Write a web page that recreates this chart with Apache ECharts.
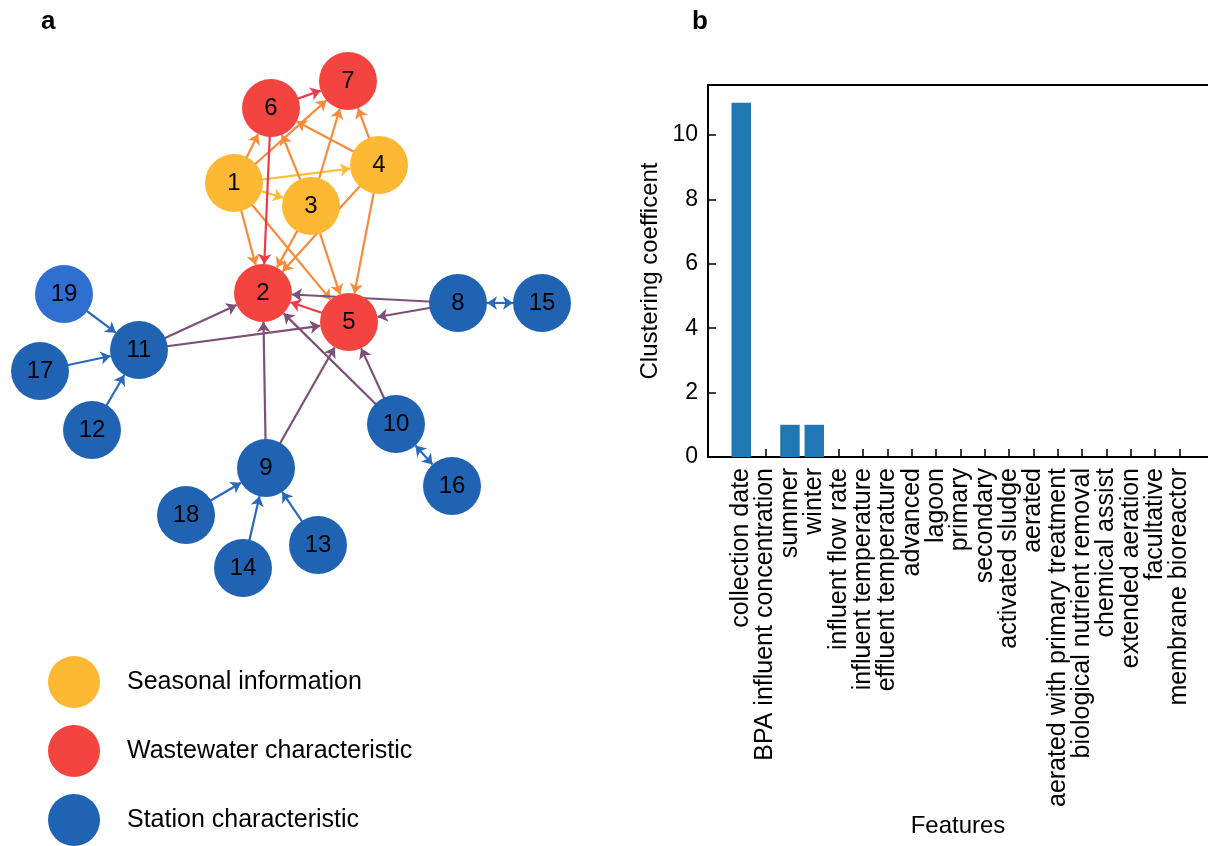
<!DOCTYPE html>
<html>
<head>
<meta charset="utf-8">
<script src="https://cdn.jsdelivr.net/npm/echarts@6/dist/echarts.min.js"></script>
<style>
html,body{margin:0;padding:0;background:#fff;}
#chart{width:1208px;height:846px;}
</style>
</head>
<body>
<div id="chart"></div>
<script>
// ---------- Panel a: network ----------
const groupNames = ['Seasonal information', 'Wastewater characteristic', 'Station characteristic'];
const groupColors = ['#FDB933', '#F4443F', '#2163B3'];
const nodeIds = ['1','2','3','4','5','6','7','8','9','10','11','12','13','14','15','16','17','18','19'];
// layout coordinates of the drawn network (x to the right, y downward)
const nodeX = [234, 263, 311, 379, 349, 271, 348, 458, 266, 396, 139, 92, 318, 243, 542, 452, 40, 186, 64];
const nodeY = [183, 293, 206, 165, 322, 108, 81, 303, 468, 424, 350, 430, 545, 568, 303, 486, 371, 515, 294];
const nodeGroup = [0, 1, 0, 0, 1, 1, 1, 2, 2, 2, 2, 2, 2, 2, 2, 2, 2, 2, 2];
const edgeSource = ['1','1','1','1','1','1','3','3','3','3','4','4','4','4','6','6','5','8','8','8','11','11','19','17','12','9','9','10','10','10','18','14','13'];
const edgeTarget = ['6','7','4','3','2','5','6','7','2','5','6','7','2','5','7','2','2','2','5','15','2','5','11','11','11','2','5','2','5','16','9','9','9'];
const edgeKind   = ['o','o','y','y','o','o','o','o','o','o','o','o','o','o','r','r','r','p','p','bb','p','p','b','b','b','p','p','p','p','bb','b','b','b'];
const edgeColors = {o:'#F88A3A', y:'#FDBD3B', r:'#EC3B48', p:'#7D5079', b:'#2A68BD', bb:'#2A68BD'};

// ---------- Panel b: bar chart ----------
const features = ['collection date','BPA influent concentration','summer','winter','influent flow rate','influent temperature','effluent temperature','advanced','lagoon','primary','secondary','activated sludge','aerated','aerated with primary treatment','biological nutrient removal','chemical assist','extended aeration','facultative','membrane bioreactor'];
const clustering = [11, 0, 1, 1, 0, 0, 0, 0, 0, 0, 0, 0, 0, 0, 0, 0, 0, 0, 0];
const yMax = 11.55;
const yTickStep = 2;

const FONT = 'Liberation Sans, Arial, Helvetica, sans-serif';

const nodes = nodeIds.map((id, i) => {
  const d = {name: id, value: [nodeX[i], nodeY[i]], category: nodeGroup[i]};
  if (id === '19') d.itemStyle = {color: '#2F6FCF'};
  return d;
});
const links = edgeSource.map((s, i) => {
  const k = edgeKind[i];
  const l = {source: s, target: edgeTarget[i], lineStyle: {color: edgeColors[k]}};
  if (k === 'bb') l.symbol = ['arrow', 'arrow'];
  return l;
});

const chart = echarts.init(document.getElementById('chart'), null, {renderer: 'canvas'});
const option = {
  animation: false,
  backgroundColor: '#fff',
  textStyle: {fontFamily: FONT},
  title: [
    {text: 'a', left: 36, top: 4, textStyle: {fontSize: 26, fontWeight: 'bold', color: '#000', fontFamily: FONT}},
    {text: 'b', left: 687, top: 4, textStyle: {fontSize: 26, fontWeight: 'bold', color: '#000', fontFamily: FONT}}
  ],
  legend: {
    data: groupNames,
    orient: 'vertical',
    left: 48, top: 656,
    padding: 0,
    itemWidth: 52, itemHeight: 52, itemGap: 17,
    icon: 'circle',
    selectedMode: false,
    textStyle: {fontSize: 25, color: '#000', fontFamily: FONT, padding: [0, 0, 0, 22]}
  },
  grid: [
    {left: 0, top: 0, width: 600, height: 846},
    {left: 708, top: 85, width: 504, height: 372},
    {left: 729.1, top: 85, width: 462.4, height: 372}
  ],
  xAxis: [
    {gridIndex: 0, type: 'value', min: 0, max: 600, show: false},
    {gridIndex: 1, type: 'value', min: 0, max: 1, position: 'bottom',
     axisLine: {show: true, onZero: false, lineStyle: {color: '#000', width: 2}},
     axisTick: {show: false}, axisLabel: {show: false}, splitLine: {show: false},
     name: 'Features', nameLocation: 'middle', nameGap: 357,
     nameTextStyle: {fontSize: 24, color: '#000', fontFamily: FONT}},
    {gridIndex: 1, type: 'value', min: 0, max: 1, position: 'top',
     axisLine: {show: true, onZero: false, lineStyle: {color: '#000', width: 2}},
     axisTick: {show: false}, axisLabel: {show: false}, splitLine: {show: false}},
    {gridIndex: 2, type: 'category', data: features,
     boundaryGap: true,
     axisLine: {show: false, onZero: false},
     axisTick: {show: true, inside: true, length: 8, alignWithLabel: true, lineStyle: {color: '#000', width: 1.5}},
     axisLabel: {rotate: 90, interval: 0, fontSize: 25, color: '#000', margin: 11, fontFamily: FONT},
     splitLine: {show: false}}
  ],
  yAxis: [
    {gridIndex: 0, type: 'value', min: 0, max: 846, inverse: true, show: false},
    {gridIndex: 1, type: 'value', min: 0, max: yMax, interval: yTickStep,
     axisLine: {show: true, onZero: false, lineStyle: {color: '#000', width: 2}},
     axisTick: {show: true, inside: true, length: 8, lineStyle: {color: '#000', width: 1.5}},
     axisLabel: {fontSize: 23, color: '#000', margin: 10, showMaxLabel: false, fontFamily: FONT},
     splitLine: {show: false},
     name: 'Clustering coefficent', nameLocation: 'middle', nameRotate: 90, nameGap: 46,
     nameTextStyle: {fontSize: 24, color: '#000', fontFamily: FONT}},
    {gridIndex: 2, type: 'value', min: 0, max: yMax, show: false}
  ],
  series: [
    {
      type: 'graph',
      coordinateSystem: 'cartesian2d',
      xAxisIndex: 0, yAxisIndex: 0,
      symbol: 'circle',
      symbolSize: 58,
      categories: groupNames.map((n, i) => ({name: n, itemStyle: {color: groupColors[i]}})),
      data: nodes,
      links: links,
      edgeSymbol: ['none', 'arrow'],
      edgeSymbolSize: 10,
      lineStyle: {width: 2.2, opacity: 1, curveness: 0},
      label: {show: true, position: 'inside', fontSize: 24, color: '#000', fontFamily: FONT},
      emphasis: {disabled: true},
      z: 3
    },
    {
      type: 'bar',
      xAxisIndex: 3, yAxisIndex: 2,
      data: clustering,
      barWidth: '80%',
      itemStyle: {color: '#1F77B4'},
      emphasis: {disabled: true},
      z: 1
    }
  ]
};
chart.setOption(option);
</script>
</body>
</html>
